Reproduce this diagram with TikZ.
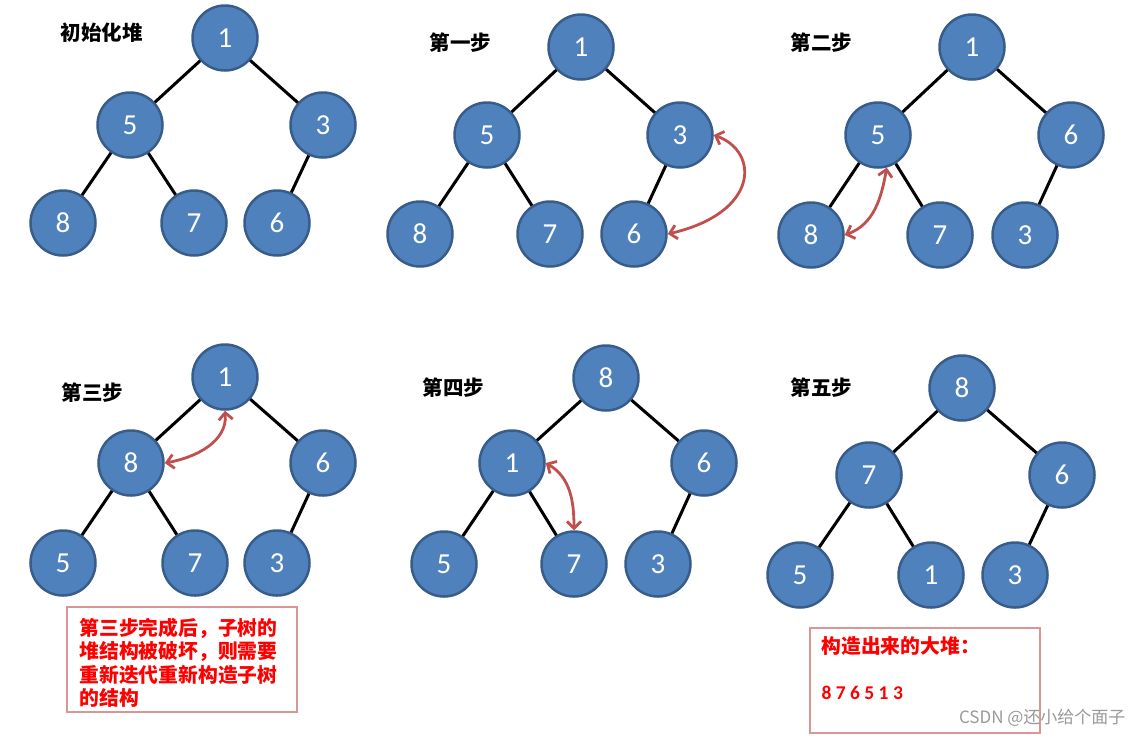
\documentclass[tikz,border=0pt]{standalone}
\usepackage{fontspec}
\setmainfont{Carlito}
\newfontfamily\cjk{Noto Sans CJK SC}
\usetikzlibrary{arrows.meta}

\definecolor{nodefill}{RGB}{79,129,189}
\definecolor{nodeedge}{RGB}{56,93,138}
\definecolor{swapred}{RGB}{192,80,77}
\definecolor{boxedge}{RGB}{217,150,148}

\tikzset{
	hnode/.style={circle, draw=nodeedge, fill=nodefill, line width=2.5pt, minimum size=65pt, inner sep=0pt, text=white, font=\fontsize{29}{31}\selectfont},
	tedge/.style={line width=3pt},
	swaparrow/.style={draw=swapred, line width=2.8pt, {Straight Barb[length=7pt,width=14pt]}-{Straight Barb[length=7pt,width=14pt]}},
	steplabel/.style={anchor=west, font=\cjk\bfseries\fontsize{20.5}{22}\selectfont},
	notebox/.style={draw=boxedge, line width=1.2pt},
	notetext/.style={anchor=west, text=red, font=\cjk\bfseries\fontsize{19.8}{23}\selectfont}
}

\begin{document}
\begin{tikzpicture}[x=1pt,y=1pt]
	\useasboundingbox (0,0) rectangle (1142,-737);
	% initial heap
	\node [steplabel] (L0) at (57,-33) {初始化堆};
	\node [hnode] (a1) at (225,-38) {1};
	\node [hnode] (a2) at (130,-125) {5};
	\node [hnode] (a3) at (323,-125) {3};
	\node [hnode] (a4) at (63,-223) {8};
	\node [hnode] (a5) at (194,-223) {7};
	\node [hnode] (a6) at (277,-223) {6};
		\draw [tedge] (a1) -- (a2);
		\draw [tedge] (a1) -- (a3);
		\draw [tedge] (a2) -- (a4);
		\draw [tedge] (a2) -- (a5);
		\draw [tedge] (a3) -- (a6);
	% step 1
	\node [steplabel] (L1) at (426,-43) {第一步};
	\node [hnode] (b1) at (581,-47) {1};
	\node [hnode] (b2) at (487,-135) {5};
	\node [hnode] (b3) at (680,-135) {3};
	\node [hnode] (b4) at (420,-234) {8};
	\node [hnode] (b5) at (550,-234) {7};
	\node [hnode] (b6) at (634,-234) {6};
		\draw [tedge] (b1) -- (b2);
		\draw [tedge] (b1) -- (b3);
		\draw [tedge] (b2) -- (b4);
		\draw [tedge] (b2) -- (b5);
		\draw [tedge] (b3) -- (b6);
	\draw [swaparrow] (b3.east) to [out=-20, in=13, out distance=49pt, in distance=94pt] (b6.east);
	% step 2
	\node [steplabel] (L2) at (787,-43) {第二步};
	\node [hnode] (c1) at (972,-47) {1};
	\node [hnode] (c2) at (878,-135) {5};
	\node [hnode] (c3) at (1071,-135) {6};
	\node [hnode] (c4) at (811,-235) {8};
	\node [hnode] (c5) at (940,-235) {7};
	\node [hnode] (c6) at (1025,-235) {3};
		\draw [tedge] (c1) -- (c2);
		\draw [tedge] (c1) -- (c3);
		\draw [tedge] (c2) -- (c4);
		\draw [tedge] (c2) -- (c5);
		\draw [tedge] (c3) -- (c6);
	\draw [swaparrow] (c2.-75) to [out=-100, in=20] (c4.east);
	% step 3
	\node [steplabel] (L3) at (58,-393) {第三步};
	\node [hnode] (d1) at (225,-377) {1};
	\node [hnode] (d2) at (131,-463) {8};
	\node [hnode] (d3) at (323,-463) {6};
	\node [hnode] (d4) at (63,-563) {5};
	\node [hnode] (d5) at (195,-563) {7};
	\node [hnode] (d6) at (277,-563) {3};
		\draw [tedge] (d1) -- (d2);
		\draw [tedge] (d1) -- (d3);
		\draw [tedge] (d2) -- (d4);
		\draw [tedge] (d2) -- (d5);
		\draw [tedge] (d3) -- (d6);
	\draw [swaparrow] (d1.south) to [out=-85, in=10] (d2.east);
	% step 4
	\node [steplabel] (L4) at (419,-388) {第四步};
	\node [hnode] (e1) at (606,-378) {8};
	\node [hnode] (e2) at (512,-463) {1};
	\node [hnode] (e3) at (704,-463) {6};
	\node [hnode] (e4) at (444,-564) {5};
	\node [hnode] (e5) at (574,-564) {7};
	\node [hnode] (e6) at (658,-564) {3};
		\draw [tedge] (e1) -- (e2);
		\draw [tedge] (e1) -- (e3);
		\draw [tedge] (e2) -- (e4);
		\draw [tedge] (e2) -- (e5);
		\draw [tedge] (e3) -- (e6);
	\draw [swaparrow] (e2.east) to [out=-30, in=90] (e5.north);
	% step 5
	\node [steplabel] (L5) at (787,-388) {第五步};
	\node [hnode] (f1) at (962,-388) {8};
	\node [hnode] (f2) at (869,-475) {7};
	\node [hnode] (f3) at (1062,-475) {6};
	\node [hnode] (f4) at (800,-575) {5};
	\node [hnode] (f5) at (931,-575) {1};
	\node [hnode] (f6) at (1015,-575) {3};
		\draw [tedge] (f1) -- (f2);
		\draw [tedge] (f1) -- (f3);
		\draw [tedge] (f2) -- (f4);
		\draw [tedge] (f2) -- (f5);
		\draw [tedge] (f3) -- (f6);
	% notes
	\draw [notebox] (67,-607) rectangle (297,-712);
	\node [notetext] (N1) at (76,-628) {第三步完成后，子树的};
	\node [notetext] (N2) at (76,-652) {堆结构被破坏，则需要};
	\node [notetext] (N3) at (76,-675) {重新迭代重新构造子树};
	\node [notetext] (N4) at (76,-698) {的结构};
	\draw [notebox] (810,-628) rectangle (1040,-733);
	\node [notetext] (N5) at (818,-646) {构造出来的大堆：};
	\node [anchor=west, text=red, font=\bfseries\fontsize{19.5}{21}\selectfont] (N6) at (818,-693) {8 7 6 5 1 3};
	\node [anchor=east, text=black!40, font=\cjk\fontsize{17}{19}\selectfont] (W) at (1129,-718) {CSDN @还小给个面子};
\end{tikzpicture}
\end{document}
